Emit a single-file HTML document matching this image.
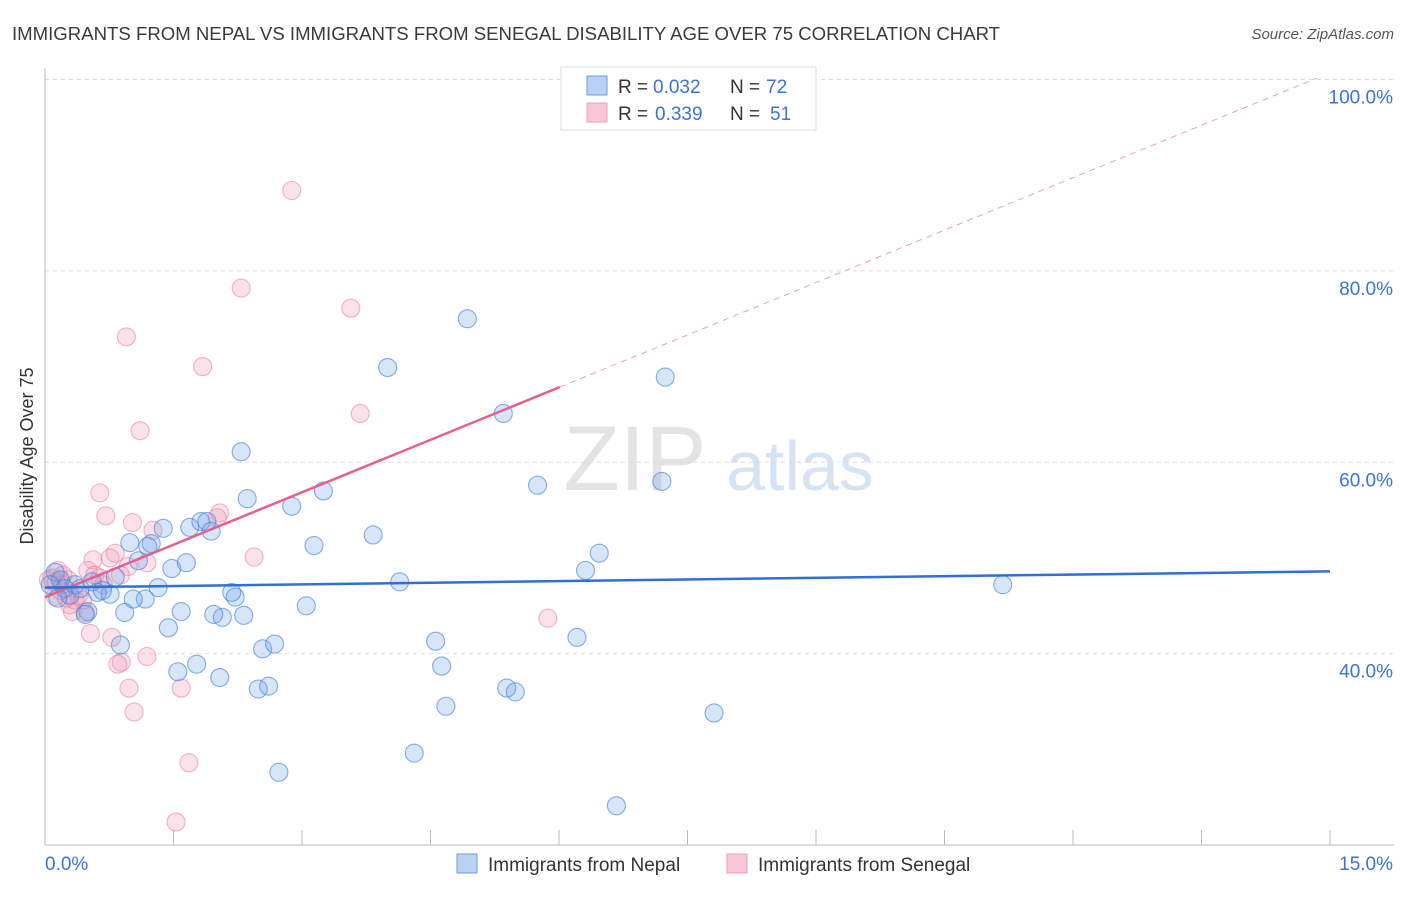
<!DOCTYPE html>
<html><head><meta charset="utf-8"><style>
body{margin:0;background:#fff;font-family:"Liberation Sans",sans-serif;}
svg text{font-family:"Liberation Sans",sans-serif;}
</style></head><body>
<svg id="chart" width="1406" height="892" viewBox="0 0 1406 892" xmlns="http://www.w3.org/2000/svg">
<text x="12" y="40" font-size="18.6" fill="#3a3a3a">IMMIGRANTS FROM NEPAL VS IMMIGRANTS FROM SENEGAL DISABILITY AGE OVER 75 CORRELATION CHART</text>
<text x="1394" y="39" font-size="15" fill="#555" font-style="italic" text-anchor="end">Source: ZipAtlas.com</text>
<text transform="translate(33,456) rotate(-90)" font-size="18" fill="#333" text-anchor="middle">Disability Age Over 75</text>
<g id="watermark">
<text x="635" y="490" font-size="92" fill="#d8d8d8" font-family="Liberation Serif" text-anchor="middle" opacity="0.7">ZIP</text>
<text x="800" y="490" font-size="70" fill="#c6d8ef" text-anchor="middle" opacity="0.7">atlas</text>
</g>
<g id="grid"></g><g id="axes"></g><g id="lines"></g><g id="points"></g>
<g>
<rect x="561" y="67" width="255" height="63" fill="#fff" stroke="#ddd"/>
<rect x="587" y="76" width="20" height="19" fill="#b9d1f3" stroke="#6d9de0"/>
<rect x="587" y="103" width="20" height="19" fill="#f8c6d6" stroke="#ec9fb9"/>
<text x="618" y="93" font-size="19" fill="#333">R = </text>
<text x="653" y="93" font-size="19" fill="#3a74d4">0.032</text>
<text x="730" y="93" font-size="19" fill="#333">N = </text>
<text x="766" y="93" font-size="19" fill="#3a74d4">72</text>
<text x="618" y="120" font-size="19" fill="#333">R = </text>
<text x="655" y="120" font-size="19" fill="#3a74d4">0.339</text>
<text x="730" y="120" font-size="19" fill="#333">N = </text>
<text x="770" y="120" font-size="19" fill="#3a74d4">51</text>
</g>
<g>
<rect x="457" y="854" width="20" height="19" fill="#b9d1f3" stroke="#6d9de0"/>
<text x="488" y="871" font-size="19" fill="#333">Immigrants from Nepal</text>
<rect x="727" y="854" width="20" height="19" fill="#f8c6d6" stroke="#ec9fb9"/>
<text x="758" y="871" font-size="19" fill="#333">Immigrants from Senegal</text>
</g>
</svg>
<script>
const nepalX=[4.93,4.00,7.24,2.29,5.35,5.75,7.20,2.36,3.25,2.88,3.83,3.14,6.47,6.31,4.14,11.18,3.05,4.56,6.21,4.63,4.68,5.39,5.49,7.81,4.31,2.73,6.67,2.49,2.61,2.04,1.55,1.77,2.54,2.68,2.32,2.07,1.97,2.22,2.18,1.59,1.44,1.32,1.17,1.03,0.93,0.88,0.76,0.82,0.50,0.61,0.47,1.48,1.65,1.24,1.20,0.99,1.09,1.38,1.69,1.82,1.89,1.94,0.12,0.18,0.23,0.29,0.35,0.06,0.15,0.41,0.55,0.67];
const nepalY=[75.0,69.9,68.9,61.1,65.1,57.6,58.0,56.2,57.0,55.4,52.4,51.3,50.5,48.7,47.5,47.2,45.0,41.3,41.7,38.7,34.5,36.4,36.0,33.8,29.6,27.6,24.1,36.3,36.6,37.5,38.1,38.9,40.5,41.0,44.0,43.8,44.1,45.9,46.4,44.4,42.7,46.9,45.7,45.7,44.3,40.9,46.2,48.0,44.4,46.4,44.1,48.9,49.5,51.5,51.2,51.6,49.7,53.1,53.2,53.8,53.8,52.8,48.5,47.7,46.8,46.1,47.2,47.2,45.8,46.8,47.5,46.6];
const senegalX=[2.88,2.29,3.57,0.95,1.84,3.68,1.11,0.64,0.71,1.02,1.26,2.04,2.01,2.44,0.76,0.82,0.56,1.19,0.97,5.87,0.32,0.53,0.78,0.89,0.85,1.19,0.98,1.59,1.04,1.68,1.53,0.12,0.18,0.27,0.21,0.08,0.39,0.44,0.15,0.50,0.29,0.58,0.35,0.64,0.04,0.25,0.47,0.68,0.88,0.20,0.13];
const senegalY=[88.4,78.2,76.1,73.1,70.0,65.1,63.3,56.8,54.4,53.7,52.9,54.7,54.2,50.1,50.0,50.5,49.8,49.5,49.1,43.7,44.4,42.1,41.7,39.1,38.9,39.7,36.4,36.4,33.9,28.6,22.4,46.0,46.6,47.7,48.2,47.9,46.1,45.6,48.7,48.7,45.1,48.2,45.6,47.9,47.7,45.8,44.3,47.2,48.2,47.2,47.5];
const nepalTrend=[46.9,48.6];
const senegalTrend=[45.9,100.7];
const senegalSolidEnd=6.01;
const yTicks=[40,60,80,100];
const xTickVals=[0,1.5,3,4.5,6,7.5,9,10.5,12,13.5,15];

const X0=45,X1=1330,XMAX=15,Y20=845,Y100=79.5;
const sx=v=>X0+(X1-X0)*v/XMAX;
const sy=v=>Y20-(Y20-Y100)*(v-20)/80;
const NS='http://www.w3.org/2000/svg';
function mk(parent,tag,attrs){const e=document.createElementNS(NS,tag);for(const k in attrs)e.setAttribute(k,attrs[k]);document.getElementById(parent).appendChild(e);return e;}

let e=mk('axes','line',{x1:X0,y1:68,x2:X0,y2:845,stroke:'#bbb','stroke-width':1});


e=mk('axes','line',{x1:X0,y1:845,x2:1394,y2:845,stroke:'#bbb','stroke-width':1});


yTicks.forEach(t=>{
  const g=mk('grid','line',{x1:X0,y1:sy(t),x2:1394,y2:sy(t),stroke:'#ddd','stroke-dasharray':'4,4'});
  
  
  const tx=mk('axes','text',{x:1393,y:sy(t)+24,'font-size':19,fill:'#3a74d4','text-anchor':'end'});
  tx.textContent=t.toFixed(1)+'%';
  
  
});
xTickVals.forEach(t=>{
  const l=mk('axes','line',{x1:sx(t),y1:830,x2:sx(t),y2:845,stroke:'#bbb'});
  
  
});
let xl=mk('axes','text',{x:45,y:870,'font-size':19,fill:'#3a74d4'});xl.textContent='0.0%';


xl=mk('axes','text',{x:1393,y:870,'font-size':19,fill:'#3a74d4','text-anchor':'end'});xl.textContent='15.0%';



function dots(xs,ys,fill,stroke,name){
  xs.forEach((x,i)=>{
    const c=mk('points','circle',{cx:sx(x),cy:sy(ys[i]),r:9,fill:fill,stroke:stroke,'stroke-width':1.1});
    
    
  });
}
dots(senegalX,senegalY,'rgba(240,150,180,0.28)','rgba(230,130,165,0.6)','senegal-point');
dots(nepalX,nepalY,'rgba(110,160,230,0.28)','rgba(70,130,215,0.65)','nepal-point');

const pAt=x=>senegalTrend[0]+(senegalTrend[1]-senegalTrend[0])*x/XMAX;
let t=mk('lines','line',{x1:sx(senegalSolidEnd),y1:sy(pAt(senegalSolidEnd)),x2:sx(14.85),y2:sy(pAt(14.85)),stroke:'#e8a0b8','stroke-dasharray':'6,5','stroke-width':1});


t=mk('lines','line',{x1:sx(0),y1:sy(pAt(0)),x2:sx(senegalSolidEnd),y2:sy(pAt(senegalSolidEnd)),stroke:'#e4608e','stroke-width':2.5});


t=mk('lines','line',{x1:sx(0),y1:sy(nepalTrend[0]),x2:sx(15),y2:sy(nepalTrend[1]),stroke:'#2f6fd6','stroke-width':2.5});


document.getElementById('chart').appendChild(document.getElementById('lines'));
</script>
</body></html>
